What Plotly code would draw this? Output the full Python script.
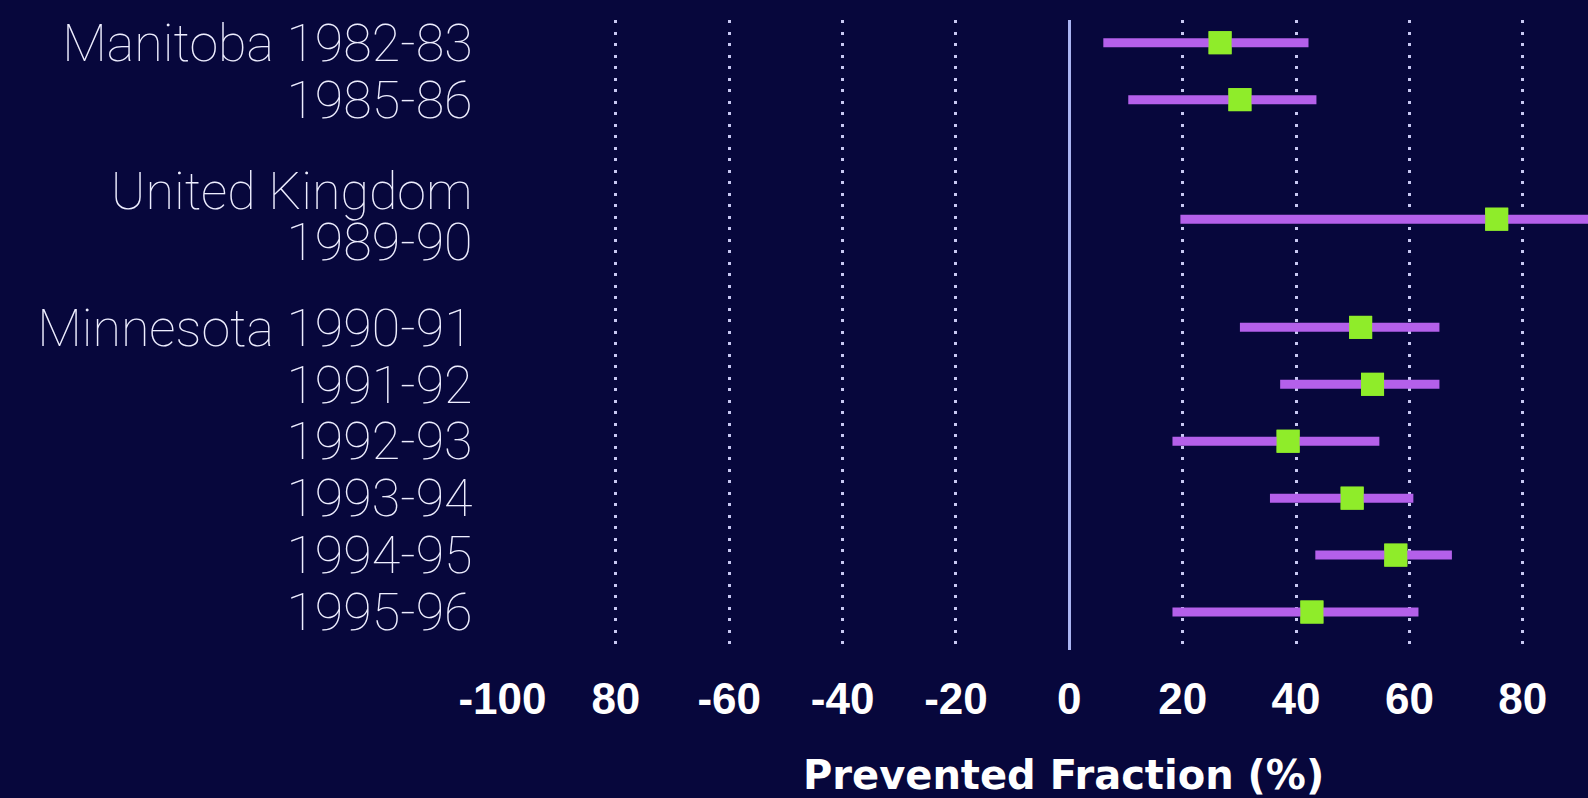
import plotly.graph_objects as go

# ---- data ----
labels = ["Manitoba 1982-83", "1985-86", "United Kingdom\n1989-90",
          "Minnesota 1990-91", "1991-92", "1992-93", "1993-94", "1994-95", "1995-96"]
group = [0, 0, 1, 2, 2, 2, 2, 2, 2]
estimate = [26.6, 30.1, 75.4, 51.4, 53.5, 38.6, 49.9, 57.6, 42.8]
lower = [6.0, 10.4, 19.6, 30.1, 37.2, 18.2, 35.4, 43.4, 18.2]
upper = [42.2, 43.6, 100.0, 65.3, 65.3, 54.7, 60.7, 67.5, 61.6]

tick_vals = [-100, -80, -60, -40, -20, 0, 20, 40, 60, 80]
tick_text = ["-100", "80", "-60", "-40", "-20", "0", "20", "40", "60", "80"]
grid_vals = [-80, -60, -40, -20, 20, 40, 60, 80]
x_title = "Prevented Fraction (%)"

# ---- styling / layout ----
BG = "#07073c"
LINE_C = "#b460ea"
MARK_C = "#8fec2a"
GRID_C = "#c8c8f2"
ZERO_C = "#aab4f2"
TXT_C = "#eeeeff"
group_gap = [0, 1.1, 2.0]   # blank space inserted before each group (in rows)

pos = [i + group_gap[g] for i, g in enumerate(group)]

ytick_vals, ytick_text = [], []
for p, lab in zip(pos, labels):
    parts = lab.split("\n")
    if len(parts) == 1:
        ytick_vals.append(p)
        ytick_text.append(lab)
    else:
        n = len(parts)
        for k, part in enumerate(parts):
            ytick_vals.append(p - 0.05 + (k - (n - 1) / 2) * 0.9)
            ytick_text.append(part)

fig = go.Figure()
fig.add_trace(go.Scatter(
    x=estimate, y=pos, mode="markers",
    marker=dict(symbol="square", size=23, color=MARK_C, line=dict(width=0)),
    error_x=dict(type="data", symmetric=False,
                 array=[u - e for u, e in zip(upper, estimate)],
                 arrayminus=[e - l for e, l in zip(estimate, lower)],
                 color=LINE_C, thickness=9, width=0),
    xaxis="x2", hoverinfo="skip", showlegend=False,
))
fig.add_trace(go.Scatter(
    x=estimate, y=pos, mode="markers",
    marker=dict(symbol="square", size=23, color=MARK_C, line=dict(width=0)),
    hoverinfo="skip", showlegend=False,
))

x_left, x_right = -100.44, 91.51
fig.update_layout(
    width=1588, height=798,
    margin=dict(l=500, r=0, t=20, b=148),
    paper_bgcolor=BG, plot_bgcolor=BG,
    xaxis=dict(range=[x_left, x_right], tickvals=tick_vals, ticktext=tick_text,
               showgrid=False, zeroline=True, zerolinecolor=ZERO_C, zerolinewidth=3,
               showline=False, ticks="outside", ticklen=10, tickcolor="rgba(0,0,0,0)",
               tickfont=dict(family="Liberation Sans Narrow, Liberation Sans, Arial", size=44,
                             color="#ffffff", weight="bold")),
    xaxis2=dict(overlaying="x", matches="x", range=[x_left, x_right], tickvals=grid_vals,
                showticklabels=False, showgrid=True, gridcolor=GRID_C, gridwidth=2.5,
                griddash="3px,8.5px", zeroline=False, showline=False, anchor="y", side="bottom"),
    yaxis=dict(range=[10.667, -0.399], tickvals=ytick_vals, ticktext=ytick_text,
               showgrid=False, zeroline=False, showline=False,
               ticks="outside", ticklen=16, tickcolor="rgba(0,0,0,0)",
               tickfont=dict(family="Roboto, Lato, sans-serif", size=52, color=TXT_C, weight=100)),
    annotations=[dict(text=x_title, xref="paper", yref="paper", x=0.518, y=-0.199,
                      xanchor="center", yanchor="middle", showarrow=False,
                      font=dict(family="DejaVu Sans", size=40, color="#ffffff", weight="bold"))],
)

fig.write_html("out.html", config={"displayModeBar": False},
               post_script="document.body.style.margin='0';document.body.style.background='%s';" % BG)
